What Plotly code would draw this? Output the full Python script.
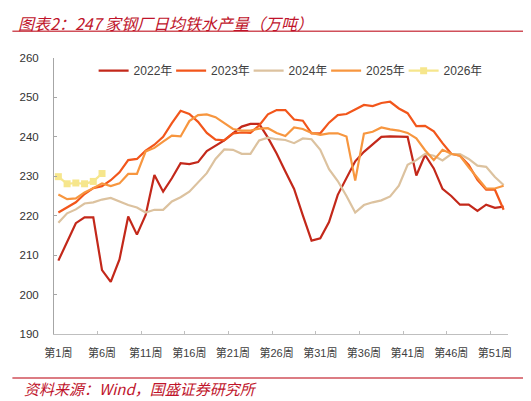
import plotly.graph_objects as go

# ---------------- data ----------------
weeks = list(range(1, 53))
tick_weeks = [1, 6, 11, 16, 21, 26, 31, 36, 41, 46, 51]
tick_labels = ["第1周", "第6周", "第11周", "第16周", "第21周", "第26周",
               "第31周", "第36周", "第41周", "第46周", "第51周"]

series_names = ["2022年", "2023年", "2024年", "2025年", "2026年"]

y2022 = [208.6, 213.5, 218.1, 219.6, 219.6, 206.2, 203.2, 208.9, 219.8, 215.2,
         220.2, 230.3, 226.1, 229.5, 233.3, 233.1, 233.6, 236.4, 237.8, 239.1,
         240.9, 242.6, 243.3, 243.3, 239.8, 235.8, 231.2, 226.8, 220.1, 213.7,
         214.3, 218.4, 225.3, 229.7, 233.8, 236.2, 238.1, 240.0, 240.1, 240.0,
         240.0, 230.2, 235.4, 232.0, 226.8, 225.0, 222.8, 222.8, 221.2, 222.8,
         222.0, 222.3]

y2023 = [220.8, 222.2, 223.4, 225.5, 227.0, 227.5, 229.0, 231.0, 234.1, 234.4,
         236.5, 238.0, 240.0, 243.5, 246.6, 245.8, 243.8, 241.0, 239.3, 239.1,
         240.9, 241.1, 241.0, 242.9, 245.7, 246.8, 246.8, 244.4, 244.1, 240.9,
         240.9, 243.6, 245.5, 245.8, 247.0, 248.1, 247.8, 248.6, 248.9, 247.2,
         246.0, 242.7, 242.8, 241.4, 238.4, 235.7, 235.2, 232.9, 229.1, 226.6,
         226.6, 221.5]

y2024 = [218.2, 220.6, 221.6, 223.1, 223.4, 224.1, 224.5, 223.6, 222.7, 222.1,
         220.8, 221.5, 221.5, 223.6, 224.7, 226.1, 228.4, 230.8, 234.4, 236.8,
         236.7, 235.7, 235.7, 239.1, 239.8, 239.4, 239.2, 238.4, 239.6, 239.4,
         236.7, 231.8, 228.8, 225.0, 220.8, 222.7, 223.4, 223.9, 224.9, 227.6,
         232.9, 234.1, 235.7, 235.2, 234.0, 235.6, 235.6, 234.4, 232.7, 232.4,
         229.8, 227.8]

y2025 = [225.4, 224.2, 224.4, 225.9, 227.0, 228.2, 227.5, 228.2, 230.6, 230.6,
         236.3, 237.2, 238.8, 240.3, 240.1, 244.0, 245.5, 245.7, 245.0, 243.6,
         242.0, 241.6, 241.6, 242.1, 242.2, 241.0, 240.2, 242.4, 242.0, 241.0,
         240.5, 240.9, 240.9, 240.1, 228.9, 240.8, 241.3, 242.4, 241.9, 241.6,
         241.0, 239.6, 236.6, 234.1, 236.7, 235.7, 235.2, 232.3, 229.6, 226.9,
         226.9, 227.6]

y2026 = [229.9, 228.1, 228.3, 228.1, 228.7, 230.7]

# ---------------- style ----------------
colors = ["#C3281A", "#F2561B", "#DCC29F", "#F7963F", "#F6E68C"]
OFF = 8                      # the page body adds an 8px margin
W, H = 531 - OFF, 401 - OFF
# plot area, in page pixels of the reference
L, R, T, B = 50 - OFF, 508.3 - OFF, 57.8 - OFF, 334.5 - OFF

def px(x):
    return (x - OFF - L) / (R - L)

def py(y):
    return (B - (y - OFF)) / (B - T)

fig = go.Figure()
all_y = [y2022, y2023, y2024, y2025]
for name, ys, c in zip(series_names[:4], all_y, colors[:4]):
    fig.add_trace(go.Scatter(x=weeks[:len(ys)], y=ys, mode="lines", name=name,
                             line=dict(color=c, width=2.2)))
fig.add_trace(go.Scatter(x=weeks[:len(y2026)], y=y2026, mode="lines+markers",
                         name=series_names[4],
                         line=dict(color=colors[4], width=2.2),
                         marker=dict(symbol="square", size=7, color=colors[4])))

cjk = "Liberation Sans, Noto Sans CJK SC, sans-serif"
red = "#C0142B"

fig.update_layout(
    width=W, height=H,
    margin=dict(l=L, r=W - R, t=T, b=H - B, pad=0),
    paper_bgcolor="white", plot_bgcolor="white",
    font=dict(family=cjk, size=11, color="#404040"),
    showlegend=True,
    legend=dict(orientation="h", x=px(90), y=py(70.5), xanchor="left", yanchor="middle",
                font=dict(size=12, color="#404040"), itemwidth=30,
                entrywidth=32.5, entrywidthmode="pixels", bgcolor="rgba(0,0,0,0)",
                traceorder="normal"),
    xaxis=dict(range=[0.5, 52.5], tickmode="array", tickvals=tick_weeks, ticktext=tick_labels,
               ticks="", showline=True, linecolor="#BFBFBF", linewidth=1,
               showgrid=False, zeroline=False, ticklabelstandoff=9,
               tickfont=dict(size=11, color="#404040"),
               minor=dict(tickmode="array",
                          tickvals=[w - 0.5 for w in tick_weeks[1:]],
                          ticks="inside", ticklen=3, tickcolor="#BFBFBF", showgrid=False)),
    yaxis=dict(range=[190, 260], tick0=190, dtick=10, ticks="inside", ticklen=3,
               tickcolor="#A6A6A6", showline=True, linecolor="#A6A6A6", linewidth=1,
               showgrid=False, zeroline=False, ticklabelstandoff=12,
               tickfont=dict(size=11.5, color="#333333")),
)

# title, footer and separator lines
fig.add_annotation(xref="paper", yref="paper", x=px(12), y=py(8.5), xanchor="left", yanchor="top",
                   text="图表2：247 家钢厂日均铁水产量（万吨）", showarrow=False,
                   font=dict(family="Noto Sans CJK SC", size=16, color=red, style="italic"))
fig.add_annotation(xref="paper", yref="paper", x=px(18), y=py(389.6), xanchor="left", yanchor="middle",
                   text="资料来源：Wind，国盛证券研究所", showarrow=False,
                   font=dict(family="Noto Sans CJK SC", size=15, color=red, style="italic"))
fig.add_shape(type="line", xref="paper", yref="paper", x0=px(8), x1=px(531), y0=py(31), y1=py(31),
              line=dict(color="#D0505A", width=1.5))
fig.add_shape(type="line", xref="paper", yref="paper", x0=px(8), x1=px(531), y0=py(378.5), y1=py(378.5),
              line=dict(color="#D0505A", width=1.5))

fig.write_html("out.html")
